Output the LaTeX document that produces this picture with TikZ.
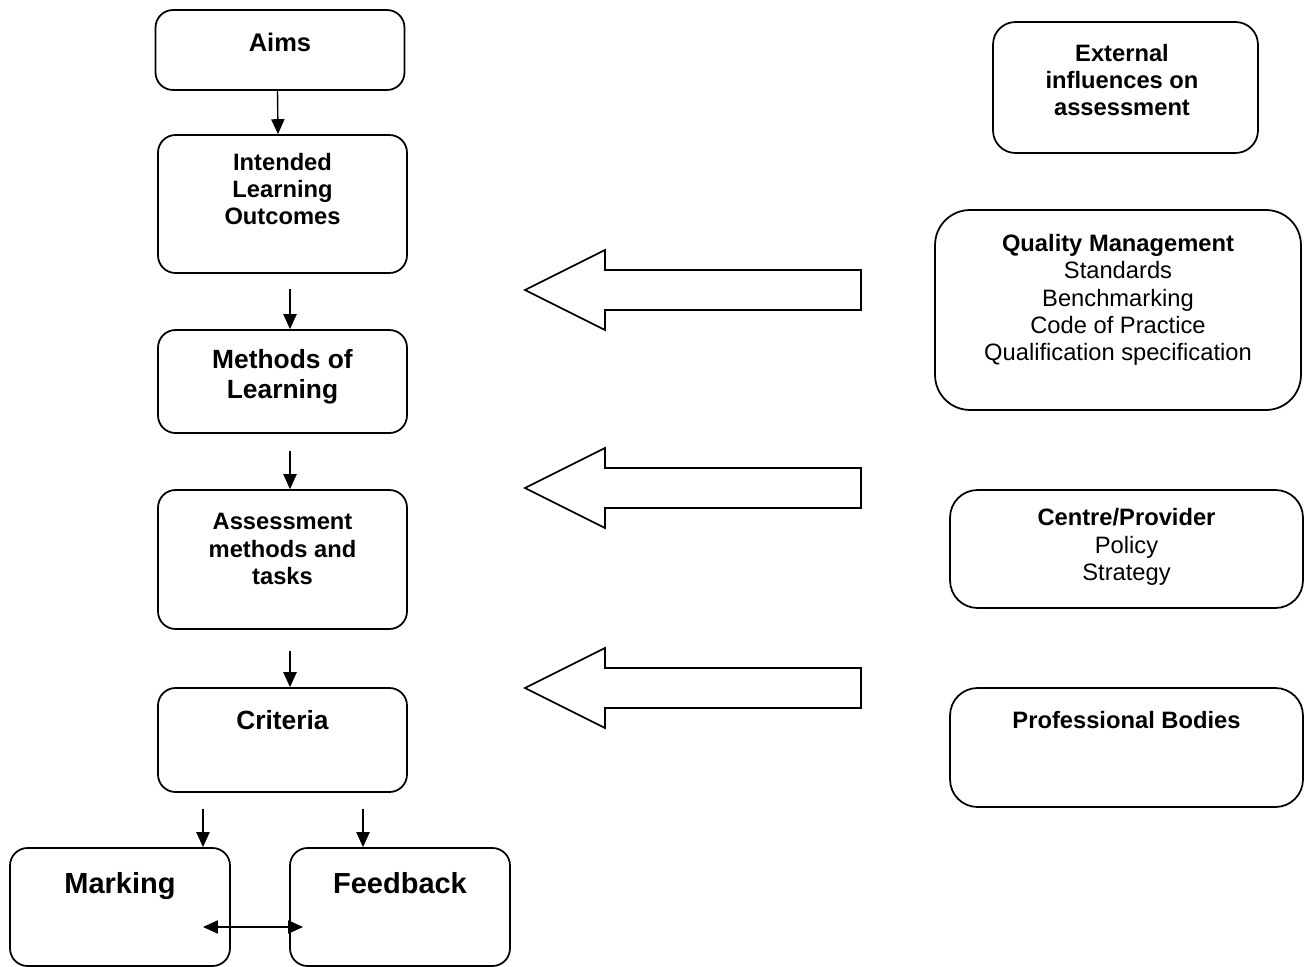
\documentclass[tikz,border=0pt]{standalone}
\usepackage{fontspec}
\setmainfont{Liberation Sans}
\usetikzlibrary{arrows.meta}
\tikzstyle{stage} = [draw, line width=1pt, rectangle, rounded corners=0.35cm, minimum width=4.98cm]
\tikzstyle{influence} = [draw, line width=1pt, rectangle, rounded corners=0.55cm]
\tikzstyle{stagetext} = [align=center, inner sep=0pt, font=\bfseries\fontsize{13.5}{15.6}\selectfont]
\tikzstyle{bigtext} = [align=center, inner sep=0pt, font=\bfseries\fontsize{15}{17}\selectfont]
\tikzstyle{hugetext} = [align=center, inner sep=0pt, anchor=base, font=\bfseries\fontsize{16.5}{19}\selectfont]
\tikzstyle{flow} = [-{Triangle[length=8.5pt,width=7.5pt]}, line width=0.8pt]
\tikzstyle{hollowarrow} = [draw, line width=1pt, line join=miter]
\newcommand{\pusharrow}[1]{
  \draw[hollowarrow] (861,{#1-20}) -- (605,{#1-20}) -- (605,{#1-40}) -- (525,#1)
    -- (605,{#1+40}) -- (605,{#1+20}) -- (861,{#1+20}) -- cycle;
}

\begin{document}
\begin{tikzpicture}[x=0.02cm, y=-0.02cm]
		\useasboundingbox (0,0) rectangle (1309,967);
		% left column
		\node[stage, minimum height=1.6cm] (aims) at (280,50) {};
		\node[stagetext, font=\bfseries\fontsize{14.5}{17}\selectfont] (aimst) at (280,42) {Aims};
		\node[stage, minimum height=2.76cm] (ilo) at (282.5,204) {};
		\node[stagetext] (ilot) at (282.5,189) {Intended\\Learning\\Outcomes};
		\node[stage, minimum height=2.06cm] (meth) at (282.5,381.5) {};
		\node[bigtext] (metht) at (282.5,377) {Methods of\\Learning};
		\node[stage, minimum height=2.78cm] (assess) at (282.5,559.5) {};
		\node[stagetext] (assesst) at (282.5,549) {Assessment\\methods and\\tasks};
		\node[stage, minimum height=2.08cm] (crit) at (282.5,740) {};
		\node[bigtext] (critt) at (282.5,720) {Criteria};
		\node[stage, minimum width=4.4cm, minimum height=2.36cm] (mark) at (120,907) {};
		\node[hugetext] (markt) at (120,893) {Marking};
		\node[stage, minimum width=4.4cm, minimum height=2.36cm] (feed) at (400,907) {};
		\node[hugetext] (feedt) at (400,893) {Feedback};

		% right column
		\node[influence, minimum width=5.3cm, minimum height=2.62cm, rounded corners=0.45cm] (ext) at (1125.5,87.5) {};
		\node[stagetext] (extt) at (1122,80) {External\\influences on\\assessment};
		\node[influence, minimum width=7.32cm, minimum height=4cm, rounded corners=0.7cm] (qm) at (1118,310) {};
		\node[stagetext, font=\fontsize{13.5}{15.6}\selectfont] (qmt) at (1118,300) {\textbf{Quality Management}\\Standards\\Benchmarking\\Code of Practice\\Qualification specification};
		\node[influence, minimum width=7.06cm, minimum height=2.36cm] (cp) at (1126.5,549) {};
		\node[stagetext, font=\fontsize{13.5}{15.6}\selectfont] (cpt) at (1126.5,547) {\textbf{Centre/Provider}\\Policy\\Strategy};
		\node[influence, minimum width=7.06cm, minimum height=2.38cm] (pb) at (1126.5,747.5) {};
		\node[stagetext] (pbt) at (1126.5,720) {Professional Bodies};

		% flow arrows
		\draw[flow] ([xshift=-0.05cm]aims.south) -- ([xshift=-0.09cm]ilo.north);
		\draw[flow, shorten <=0.3cm] ([xshift=0.15cm]ilo.south) -- ([xshift=0.15cm]meth.north);
		\draw[flow, shorten <=0.34cm] ([xshift=0.15cm]meth.south) -- ([xshift=0.15cm]assess.north);
		\draw[flow, shorten <=0.42cm] ([xshift=0.15cm]assess.south) -- ([xshift=0.15cm]crit.north);
		\draw[flow, shorten <=0.32cm] ([xshift=1.66cm]mark.north |- crit.south) -- ([xshift=1.66cm]mark.north);
		\draw[flow, shorten <=0.32cm] ([xshift=-0.74cm]feed.north |- crit.south) -- ([xshift=-0.74cm]feed.north);
		\draw[flow, {Triangle[length=8.5pt,width=7.5pt]}-{Triangle[length=8.5pt,width=7.5pt]}] ([xshift=1.66cm,yshift=-0.4cm]mark.center) -- ([xshift=-1.94cm,yshift=-0.4cm]feed.center);

		% influence arrows
		\pusharrow{290}
		\pusharrow{488}
		\pusharrow{688}
	\end{tikzpicture}
\end{document}
